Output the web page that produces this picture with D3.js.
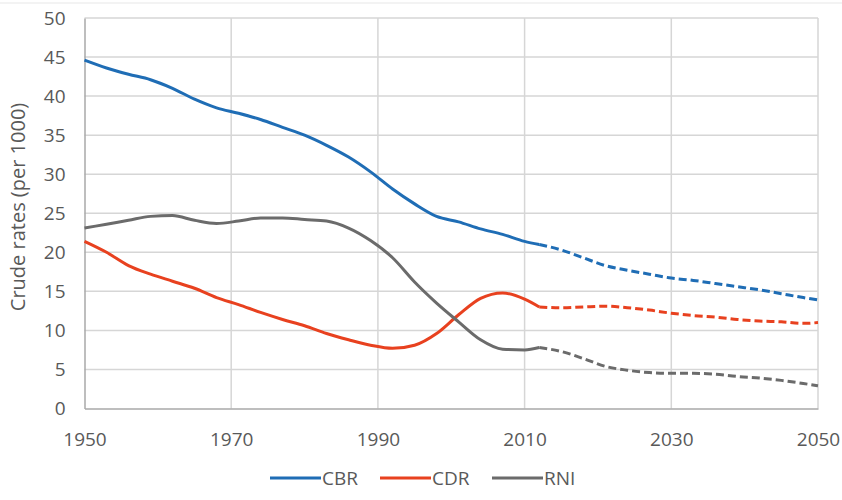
<!DOCTYPE html>
<html>
<head>
<meta charset="utf-8">
<script src="https://cdn.jsdelivr.net/npm/d3@7"></script>
<style>
  body { margin: 0; background: #fff; }
  svg text { font-family: "Open Sans", "Noto Sans", sans-serif; fill: #595959; }
</style>
</head>
<body>
<svg id="chart" width="842" height="500"></svg>
<script>
// observed years (solid) and projection years (dashed)
const obsYears = [1950, 1953, 1956, 1959, 1962, 1965, 1968, 1971, 1974, 1977, 1980, 1983, 1986, 1989, 1992, 1995, 1998, 2001, 2004, 2007, 2010, 2012];
const projYears = [2012, 2015, 2018, 2021, 2024, 2027, 2030, 2033, 2036, 2039, 2042, 2045, 2048, 2050];

const cbrObs = [44.6, 43.6, 42.8, 42.1, 41.0, 39.6, 38.5, 37.8, 37.0, 36.0, 35.0, 33.7, 32.2, 30.3, 28.1, 26.2, 24.6, 23.9, 23.0, 22.3, 21.4, 21.0];
const cbrProj = [21.0, 20.3, 19.3, 18.3, 17.7, 17.2, 16.7, 16.4, 16.0, 15.6, 15.2, 14.7, 14.2, 13.9];

const cdrObs = [21.4, 20.0, 18.3, 17.2, 16.3, 15.4, 14.2, 13.3, 12.3, 11.4, 10.6, 9.6, 8.8, 8.1, 7.7, 8.1, 9.6, 12.0, 14.1, 14.8, 14.0, 13.0];
const cdrProj = [13.0, 12.9, 13.0, 13.1, 12.9, 12.6, 12.2, 11.9, 11.7, 11.4, 11.2, 11.1, 10.9, 11.0];

const rniObs = [23.1, 23.6, 24.1, 24.6, 24.7, 24.1, 23.7, 24.0, 24.4, 24.4, 24.2, 24.0, 23.1, 21.5, 19.3, 16.2, 13.5, 11.1, 8.8, 7.6, 7.5, 7.8];
const rniProj = [7.8, 7.3, 6.4, 5.4, 4.9, 4.6, 4.5, 4.5, 4.4, 4.1, 3.9, 3.6, 3.2, 2.9];

const seriesNames = ['CBR', 'CDR', 'RNI'];
const seriesColors = ['#1f6db5', '#e8411f', '#6b6b6b'];
const xTicks = [1950, 1970, 1990, 2010, 2030, 2050];
const yTicks = [0, 5, 10, 15, 20, 25, 30, 35, 40, 45, 50];

const width = 842, height = 500;
const margin = { top: 18, right: 24, bottom: 91.5, left: 84.5 };

const svg = d3.select('#chart');

// faint frame of the original picture
svg.append('line').attr('x1', 0).attr('x2', width).attr('y1', 3).attr('y2', 3)
  .attr('stroke', '#efefef').attr('stroke-width', 1.5);

const x = d3.scaleLinear().domain([1950, 2050]).range([margin.left, width - margin.right]);
const y = d3.scaleLinear().domain([0, 50]).range([height - margin.bottom, margin.top]);

// gridlines
svg.append('g')
  .selectAll('line')
  .data(yTicks.slice(1))
  .join('line')
  .attr('x1', x(1950)).attr('x2', x(2050))
  .attr('y1', d => y(d)).attr('y2', d => y(d))
  .attr('stroke', '#d6d6d6').attr('stroke-width', 1.5);

svg.append('g')
  .selectAll('line')
  .data(xTicks.slice(1))
  .join('line')
  .attr('x1', d => x(d)).attr('x2', d => x(d))
  .attr('y1', y(0)).attr('y2', y(50))
  .attr('stroke', '#d6d6d6').attr('stroke-width', 1.5);

// axes
const yAxis = svg.append('g')
  .attr('transform', `translate(${margin.left},0)`)
  .call(d3.axisLeft(y).tickValues(yTicks).tickSize(0).tickPadding(19));
yAxis.select('.domain').attr('stroke', '#a9a9a9').attr('stroke-width', 1.5);
yAxis.selectAll('text').attr('font-size', 19).attr('fill', '#595959');

const xAxis = svg.append('g')
  .attr('transform', `translate(0,${y(0)})`)
  .call(d3.axisBottom(x).tickValues(xTicks).tickFormat(d3.format('d')).tickSize(0).tickPadding(24));
xAxis.select('.domain').attr('stroke', '#a9a9a9').attr('stroke-width', 1.5);
xAxis.selectAll('text').attr('font-size', 19).attr('fill', '#595959');

svg.append('text')
  .attr('transform', `translate(25,207) rotate(-90)`)
  .attr('text-anchor', 'middle')
  .attr('font-size', 20)
  .text('Crude rates (per 1000)');

// lines
const line = d3.line()
  .x(d => x(d[0]))
  .y(d => y(d[1]))
  .curve(d3.curveMonotoneX);

const series = [
  { obs: cbrObs, proj: cbrProj },
  { obs: cdrObs, proj: cdrProj },
  { obs: rniObs, proj: rniProj }
];

series.forEach((s, i) => {
  svg.append('path')
    .datum(obsYears.map((yr, k) => [yr, s.obs[k]]))
    .attr('fill', 'none')
    .attr('stroke', seriesColors[i])
    .attr('stroke-width', 3)
    .attr('stroke-linejoin', 'round')
    .attr('d', line);
  svg.append('path')
    .datum(projYears.map((yr, k) => [yr, s.proj[k]]))
    .attr('fill', 'none')
    .attr('stroke', seriesColors[i])
    .attr('stroke-width', 3)
    .attr('stroke-dasharray', '8,4')
    .attr('d', line);
});

// legend
const legendX = [270, 380, 492];
const legend = svg.append('g')
  .selectAll('g')
  .data(seriesNames)
  .join('g')
  .attr('transform', (d, i) => `translate(${legendX[i]},478)`);

legend.append('line')
  .attr('x1', 0).attr('x2', 51)
  .attr('stroke', (d, i) => seriesColors[i])
  .attr('stroke-width', 3);

legend.append('text')
  .attr('x', 52)
  .attr('dy', '0.36em')
  .attr('font-size', 19)
  .text(d => d);
</script>
</body>
</html>
